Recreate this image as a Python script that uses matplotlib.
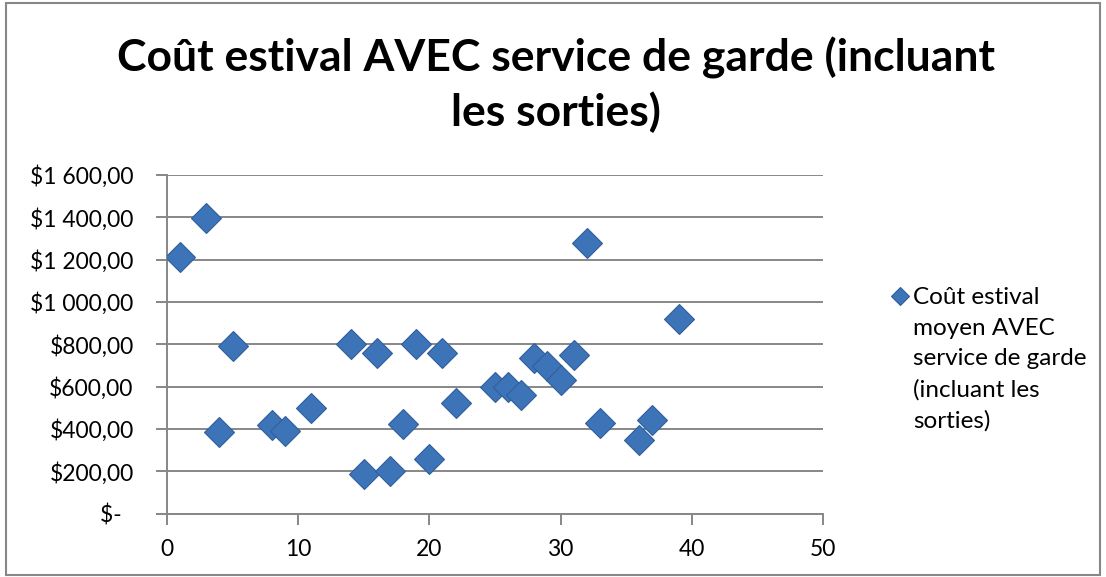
import matplotlib
matplotlib.use("Agg")
import matplotlib.pyplot as plt
from matplotlib.ticker import FuncFormatter, MultipleLocator
from matplotlib.patches import Rectangle

plt.rcParams['font.family'] = ['Lato', 'DejaVu Sans']

# Data
semaines = [1, 3, 4, 5, 8, 9, 11, 14, 15, 16, 17, 18, 19, 20, 21, 22,
            25, 26, 27, 28, 29, 30, 31, 32, 33, 36, 37, 39]
cout = [1212, 1397, 384, 791, 418, 391, 500, 802, 185, 758, 200, 422, 800, 256, 758, 520,
        600, 600, 559, 734, 699, 631, 748, 1277, 426, 346, 442, 918]

titre = "Coût estival AVEC service de garde (incluant\nles sorties)"
serie = "Coût estival\nmoyen AVEC\nservice de garde\n(incluant les\nsorties)"

bleu = "#3d74b8"
gris = "#878787"

fig = plt.figure(figsize=(11.06, 5.77), dpi=100)
ax = fig.add_axes([0.151, 0.110, 0.593, 0.587])

ax.plot(semaines, cout, linestyle="none", marker="D", markersize=15.5,
        markerfacecolor=bleu, markeredgecolor="#2f5f9c", markeredgewidth=0.8,
        label=serie, zorder=3)

ax.set_xlim(0, 50)
ax.set_ylim(0, 1600)
ax.xaxis.set_major_locator(MultipleLocator(10))
ax.yaxis.set_major_locator(MultipleLocator(200))


def dollars(v, pos):
    if v == 0:
        return "$-  "
    s = f"{v:,.2f}".replace(",", " ").replace(".", ",")
    return "$" + s


ax.yaxis.set_major_formatter(FuncFormatter(dollars))
ax.grid(axis="y", color=gris, linewidth=1.4)
ax.set_axisbelow(True)
for side in ("top", "right"):
    ax.spines[side].set_visible(False)
for side in ("left", "bottom"):
    ax.spines[side].set_color(gris)
    ax.spines[side].set_linewidth(1.4)
ax.tick_params(axis="both", colors=gris, width=1.4, length=8, direction="out",
               labelcolor="black", labelsize=16.5)
ax.tick_params(axis="y", pad=16)
ax.tick_params(axis="x", pad=10)

leg = ax.legend(loc="upper left", bbox_to_anchor=(0.808, 0.502), bbox_transform=fig.transFigure,
                frameon=False, fontsize=17.5, handlelength=0.5, handletextpad=0.3,
                markerscale=0.6, borderaxespad=0, borderpad=0)
for col in leg._legend_handle_box.get_children():
    for row in col.get_children():
        row.align = "top"
for t in leg.get_texts():
    t.set_linespacing(1.55)

fig.text(0.503, 0.853, titre, ha="center", va="center", fontsize=32, fontweight="bold",
         linespacing=1.36)

fig.patches.append(Rectangle((0.005, 0.004), 0.99, 0.99, transform=fig.transFigure,
                             fill=False, edgecolor=gris, linewidth=1.5))

plt.savefig("out.png", dpi=100)
